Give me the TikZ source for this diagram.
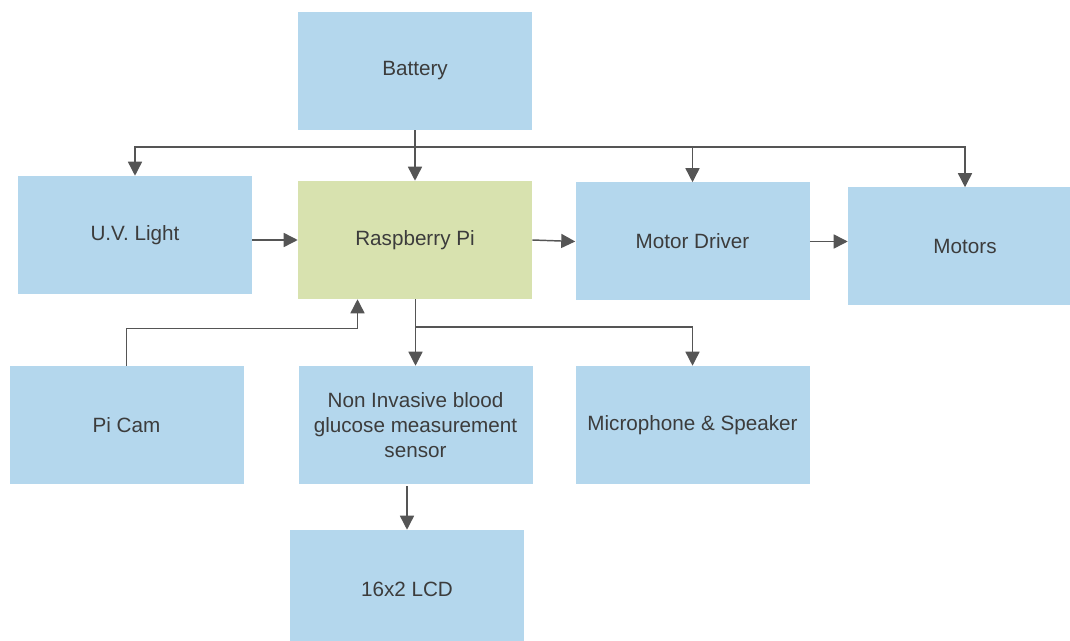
\documentclass[tikz,border=0pt]{standalone}
\usepackage{fontspec}
\setmainfont{Liberation Sans}
\usetikzlibrary{arrows.meta,calc}
\begin{document}
\begin{tikzpicture}[x=0.75pt, y=-0.75pt]
  % Colors
  \definecolor{boxcol}{RGB}{180,215,237}
  \definecolor{picol}{RGB}{216,226,175}
  \definecolor{wirecol}{RGB}{85,85,85}
  \definecolor{txtcol}{RGB}{60,60,60}
  %
  \tikzset{
    block/.style={fill=boxcol, minimum width=175.5pt, minimum height=88.5pt,
                  inner sep=2pt, align=center, text=txtcol,
                  font=\fontsize{15.5}{18.75}\selectfont},
    wire/.style={draw=wirecol, line width=1.1pt},
    arr/.style={wire, -{Triangle[length=10.5pt, width=10.5pt]}},
  }
  %
  \useasboundingbox (0,0) rectangle (1070,641);
  %
  % === BLOCKS ===
  \node[block] (battery) at (415, 71) {Battery};
  \node[block] (uv)      at (135, 235) {U.V. Light};
  \node[block, fill=picol] (rpi) at (415, 240) {Raspberry Pi};
  \node[block] (mdrv)    at (692.5, 241.5) {Motor Driver};
  \node[block] (motors)  at (965, 246.5) {Motors};
  \node[block] (picam)   at (126.5, 425) {Pi Cam};
  \node[block] (nib)     at (415.5, 425) {Non Invasive blood\\glucose measurement\\sensor};
  \node[block] (mic)     at (692.5, 425) {Microphone \& Speaker};
  \node[block] (lcd)     at (407, 589) {16x2 LCD};
  %
  % === POWER BUS (battery feeds) ===
  \coordinate (pwr) at (415, 147);
  \draw[arr] (battery.south) -- (rpi.north);
  \draw[arr] (pwr) -| (uv.north);
  \draw[arr] (pwr) -| (mdrv.north);
  \draw[arr] (pwr) -| (motors.north);
  %
  % === SIGNAL ROW ===
  \draw[arr] (rpi.west -| uv.east) -- (rpi.west);
  \draw[arr] (rpi.east) -- (mdrv.west);
  \draw[arr] (mdrv.east) -- (mdrv.east -| motors.west);
  %
  % === BELOW THE PI ===
  \coordinate (sig) at (415.5, 327);
  \coordinate (camin) at ($(rpi.south)+(-57.5,0)$);
  \draw[arr] (picam.north) |- ($(camin)+(0,29)$) -- (camin);
  \draw[arr] (rpi.south -| nib.north) -- (nib.north);
  \draw[arr] (sig) -| (mic.north);
  \draw[arr] ($(nib.south -| lcd.north)+(0,2)$) -- (lcd.north);
  %
\end{tikzpicture}
\end{document}
